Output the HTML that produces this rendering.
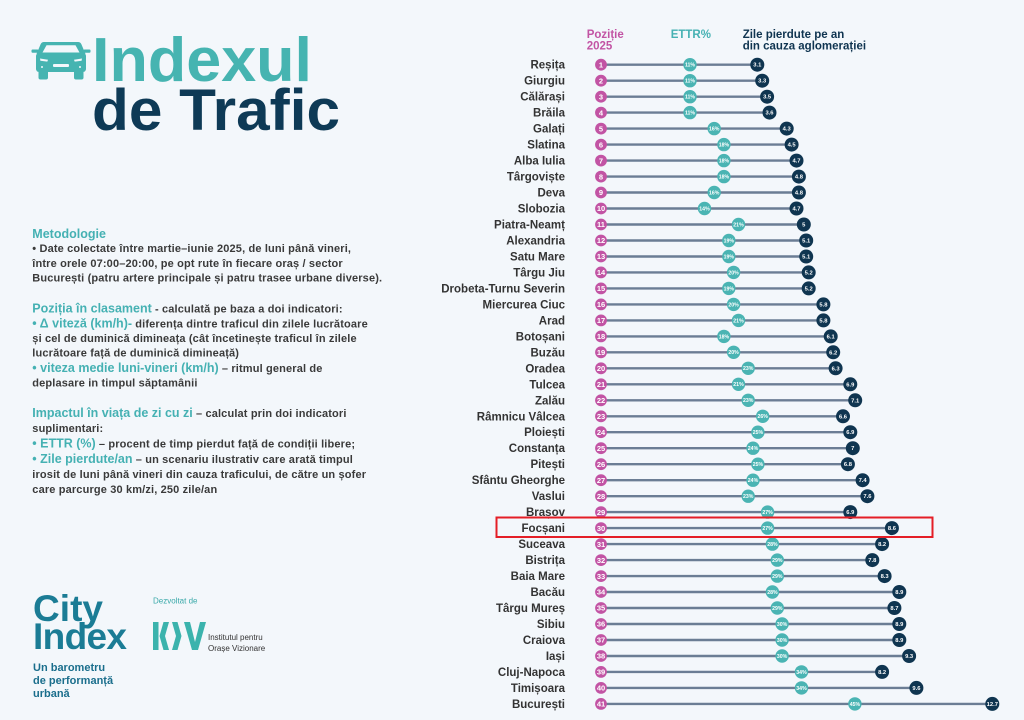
<!DOCTYPE html>
<html lang="ro">
<head>
<meta charset="utf-8">
<title>Indexul de Trafic</title>
<style>
html,body{margin:0;padding:0;background:#f3f7fb;}
svg{display:block;font-family:"Liberation Sans",Arial,sans-serif;}
.c{font-size:11.5px;font-weight:bold;fill:#333;text-anchor:end;}
line.r{stroke:#6b7d94;stroke-width:2.4;}
.p{fill:#c254a4;}
.t{fill:#4ab4b3;}
.d{fill:#0f3550;}
.pn{font-size:7.5px;font-weight:bold;fill:#fff;text-anchor:middle;}
.tn{font-size:5.2px;font-weight:bold;fill:#fff;text-anchor:middle;}
.dn{font-size:5.8px;font-weight:bold;fill:#fff;text-anchor:middle;}
.m{font-size:11px;font-weight:bold;fill:#3a3a3a;letter-spacing:0.15px;}
.h{font-size:12.5px;font-weight:bold;fill:#45b1b3;letter-spacing:0;}
</style>
</head>
<body>
<svg width="1024" height="720" viewBox="0 0 1024 720" xmlns="http://www.w3.org/2000/svg">
<rect width="1024" height="720" fill="#f3f7fb"/>

<!-- Car icon -->
<g fill="#46b4b1">
  <path d="M44,42 L78,42 Q80.5,42 81.5,44.5 L85.5,54 L36.5,54 L40.5,44.5 Q41.5,42 44,42 Z"/>
  <rect x="31.5" y="49.5" width="7" height="3.2" rx="1"/>
  <rect x="83.5" y="49.5" width="7" height="3.2" rx="1"/>
  <rect x="36" y="53" width="50" height="19" rx="3"/>
  <rect x="38.5" y="69" width="9.5" height="10.5" rx="2"/>
  <rect x="74" y="69" width="9.5" height="10.5" rx="2"/>
</g>
<g fill="#f3f7fb">
  <path d="M46.5,45.2 L75.5,45.2 L79.5,52.5 L42.5,52.5 Z"/>
  <path d="M40,58.5 L48,59.8 L47.3,61.6 L40.4,60.8 Z"/>
  <path d="M82,58.5 L74,59.8 L74.7,61.6 L81.6,60.8 Z"/>
  <rect x="53" y="64" width="16" height="3" rx="1"/>
  <circle cx="42" cy="67" r="1"/>
  <circle cx="80" cy="67" r="1"/>
</g>

<!-- Title -->
<text x="92" y="81" font-size="62" font-weight="bold" fill="#46b4b1" textLength="220" lengthAdjust="spacingAndGlyphs">Indexul</text>
<text x="92" y="130" font-size="58" font-weight="bold" fill="#0e3a56" textLength="248" lengthAdjust="spacingAndGlyphs">de Trafic</text>

<!-- Methodology -->
<text class="h" x="32.3" y="238">Metodologie</text>
<text class="m" x="32.3" y="252">• Date colectate între martie–iunie 2025, de luni până vineri,</text>
<text class="m" x="32.3" y="267">între orele 07:00–20:00, pe opt rute în fiecare oraș / sector</text>
<text class="m" x="32.3" y="281.5">București (patru artere principale și patru trasee urbane diverse).</text>

<text class="m" x="32.3" y="312.5"><tspan class="h">Poziția în clasament</tspan> - calculată pe baza a doi indicatori:</text>
<text class="m" x="32.3" y="327.5"><tspan class="h">• Δ viteză (km/h)-</tspan> diferența dintre traficul din zilele lucrătoare</text>
<text class="m" x="32.3" y="342">și cel de duminică dimineața (cât încetinește traficul în zilele</text>
<text class="m" x="32.3" y="356.5">lucrătoare față de duminică dimineață)</text>
<text class="m" x="32.3" y="372"><tspan class="h">• viteza medie luni-vineri (km/h)</tspan> – ritmul general de</text>
<text class="m" x="32.3" y="386.5">deplasare in timpul săptamânii</text>

<text class="m" x="32.3" y="417"><tspan class="h">Impactul în viața de zi cu zi</tspan> – calculat prin doi indicatori</text>
<text class="m" x="32.3" y="432">suplimentari:</text>
<text class="m" x="32.3" y="447.5"><tspan class="h">• ETTR (%)</tspan> – procent de timp pierdut față de condiții libere;</text>
<text class="m" x="32.3" y="463"><tspan class="h">• Zile pierdute/an</tspan> – un scenariu ilustrativ care arată timpul</text>
<text class="m" x="32.3" y="478">irosit de luni până vineri din cauza traficului, de către un șofer</text>
<text class="m" x="32.3" y="493">care parcurge 30 km/zi, 250 zile/an</text>

<!-- City Index logo -->
<text x="33" y="621" font-size="37" font-weight="bold" fill="#1b7c95" textLength="70">City</text>
<text x="33" y="649" font-size="37" font-weight="bold" fill="#1b7c95" textLength="94">Index</text>
<text x="33" y="671" font-size="11" font-weight="bold" fill="#1a6e8c">Un barometru</text>
<text x="33" y="684" font-size="11" font-weight="bold" fill="#1a6e8c">de performanță</text>
<text x="33" y="697" font-size="11" font-weight="bold" fill="#1a6e8c">urbană</text>

<text x="153" y="603.5" font-size="8" fill="#3aa9a9">Dezvoltat de</text>
<!-- IOV logo -->
<g fill="#3bb3ad">
  <rect x="153" y="622" width="5.5" height="28"/>
  <path d="M169,622 L163.5,622 L159.5,636 L163.5,650 L169,650 L165,636 Z"/>
  <path d="M172,622 L177.5,622 L181.5,636 L177.5,650 L172,650 L176,636 Z"/>
  <path d="M184,622 L190,622 L195,642 L200,622 L206,622 L198,650 L192,650 Z"/>
</g>
<text x="208" y="640" font-size="8" fill="#333">Institutul pentru</text>
<text x="208" y="651" font-size="8" fill="#333">Orașe Vizionare</text>

<!-- Chart header -->
<text x="586.7" y="38" font-size="11.5" font-weight="bold" fill="#c254a4">Poziție</text>
<text x="586.7" y="49.5" font-size="11.5" font-weight="bold" fill="#c254a4">2025</text>
<text x="670.7" y="38" font-size="11.5" font-weight="bold" fill="#45b1b3">ETTR%</text>
<text x="742.7" y="38" font-size="11.5" font-weight="bold" fill="#0f3450">Zile pierdute pe an</text>
<text x="742.7" y="49.5" font-size="11.5" font-weight="bold" fill="#0f3450">din cauza aglomerației</text>

<!-- Rows -->
<g transform="translate(0,64.7)"><text class="c" x="565" y="4">Reșița</text><line class="r" x1="601" x2="757.3"/><circle class="p" cx="601" r="5.9"/><text class="pn" x="601" y="2.7">1</text><circle class="t" cx="690" r="6.7"/><text class="tn" x="690" y="1.9">11%</text><circle class="d" cx="757.3" r="7"/><text class="dn" x="757.3" y="2">3.1</text></g>
<g transform="translate(0,80.7)"><text class="c" x="565" y="4">Giurgiu</text><line class="r" x1="601" x2="762.2"/><circle class="p" cx="601" r="5.9"/><text class="pn" x="601" y="2.7">2</text><circle class="t" cx="690" r="6.7"/><text class="tn" x="690" y="1.9">11%</text><circle class="d" cx="762.2" r="7"/><text class="dn" x="762.2" y="2">3.3</text></g>
<g transform="translate(0,96.7)"><text class="c" x="565" y="4">Călărași</text><line class="r" x1="601" x2="767.1"/><circle class="p" cx="601" r="5.9"/><text class="pn" x="601" y="2.7">3</text><circle class="t" cx="690" r="6.7"/><text class="tn" x="690" y="1.9">11%</text><circle class="d" cx="767.1" r="7"/><text class="dn" x="767.1" y="2">3.5</text></g>
<g transform="translate(0,112.6)"><text class="c" x="565" y="4">Brăila</text><line class="r" x1="601" x2="769.5"/><circle class="p" cx="601" r="5.9"/><text class="pn" x="601" y="2.7">4</text><circle class="t" cx="690" r="6.7"/><text class="tn" x="690" y="1.9">11%</text><circle class="d" cx="769.5" r="7"/><text class="dn" x="769.5" y="2">3.6</text></g>
<g transform="translate(0,128.6)"><text class="c" x="565" y="4">Galați</text><line class="r" x1="601" x2="786.7"/><circle class="p" cx="601" r="5.9"/><text class="pn" x="601" y="2.7">5</text><circle class="t" cx="714.2" r="6.7"/><text class="tn" x="714.2" y="1.9">16%</text><circle class="d" cx="786.7" r="7"/><text class="dn" x="786.7" y="2">4.3</text></g>
<g transform="translate(0,144.6)"><text class="c" x="565" y="4">Slatina</text><line class="r" x1="601" x2="791.6"/><circle class="p" cx="601" r="5.9"/><text class="pn" x="601" y="2.7">6</text><circle class="t" cx="723.9" r="6.7"/><text class="tn" x="723.9" y="1.9">18%</text><circle class="d" cx="791.6" r="7"/><text class="dn" x="791.6" y="2">4.5</text></g>
<g transform="translate(0,160.6)"><text class="c" x="565" y="4">Alba Iulia</text><line class="r" x1="601" x2="796.5"/><circle class="p" cx="601" r="5.9"/><text class="pn" x="601" y="2.7">7</text><circle class="t" cx="723.9" r="6.7"/><text class="tn" x="723.9" y="1.9">18%</text><circle class="d" cx="796.5" r="7"/><text class="dn" x="796.5" y="2">4.7</text></g>
<g transform="translate(0,176.6)"><text class="c" x="565" y="4">Târgoviște</text><line class="r" x1="601" x2="798.9"/><circle class="p" cx="601" r="5.9"/><text class="pn" x="601" y="2.7">8</text><circle class="t" cx="723.9" r="6.7"/><text class="tn" x="723.9" y="1.9">18%</text><circle class="d" cx="798.9" r="7"/><text class="dn" x="798.9" y="2">4.8</text></g>
<g transform="translate(0,192.5)"><text class="c" x="565" y="4">Deva</text><line class="r" x1="601" x2="798.9"/><circle class="p" cx="601" r="5.9"/><text class="pn" x="601" y="2.7">9</text><circle class="t" cx="714.2" r="6.7"/><text class="tn" x="714.2" y="1.9">16%</text><circle class="d" cx="798.9" r="7"/><text class="dn" x="798.9" y="2">4.8</text></g>
<g transform="translate(0,208.5)"><text class="c" x="565" y="4">Slobozia</text><line class="r" x1="601" x2="796.5"/><circle class="p" cx="601" r="5.9"/><text class="pn" x="601" y="2.7">10</text><circle class="t" cx="704.5" r="6.7"/><text class="tn" x="704.5" y="1.9">14%</text><circle class="d" cx="796.5" r="7"/><text class="dn" x="796.5" y="2">4.7</text></g>
<g transform="translate(0,224.5)"><text class="c" x="565" y="4">Piatra-Neamț</text><line class="r" x1="601" x2="803.8"/><circle class="p" cx="601" r="5.9"/><text class="pn" x="601" y="2.7">11</text><circle class="t" cx="738.5" r="6.7"/><text class="tn" x="738.5" y="1.9">21%</text><circle class="d" cx="803.8" r="7"/><text class="dn" x="803.8" y="2">5</text></g>
<g transform="translate(0,240.5)"><text class="c" x="565" y="4">Alexandria</text><line class="r" x1="601" x2="806.2"/><circle class="p" cx="601" r="5.9"/><text class="pn" x="601" y="2.7">12</text><circle class="t" cx="728.8" r="6.7"/><text class="tn" x="728.8" y="1.9">19%</text><circle class="d" cx="806.2" r="7"/><text class="dn" x="806.2" y="2">5.1</text></g>
<g transform="translate(0,256.5)"><text class="c" x="565" y="4">Satu Mare</text><line class="r" x1="601" x2="806.2"/><circle class="p" cx="601" r="5.9"/><text class="pn" x="601" y="2.7">13</text><circle class="t" cx="728.8" r="6.7"/><text class="tn" x="728.8" y="1.9">19%</text><circle class="d" cx="806.2" r="7"/><text class="dn" x="806.2" y="2">5.1</text></g>
<g transform="translate(0,272.4)"><text class="c" x="565" y="4">Târgu Jiu</text><line class="r" x1="601" x2="808.7"/><circle class="p" cx="601" r="5.9"/><text class="pn" x="601" y="2.7">14</text><circle class="t" cx="733.6" r="6.7"/><text class="tn" x="733.6" y="1.9">20%</text><circle class="d" cx="808.7" r="7"/><text class="dn" x="808.7" y="2">5.2</text></g>
<g transform="translate(0,288.4)"><text class="c" x="565" y="4">Drobeta-Turnu Severin</text><line class="r" x1="601" x2="808.7"/><circle class="p" cx="601" r="5.9"/><text class="pn" x="601" y="2.7">15</text><circle class="t" cx="728.8" r="6.7"/><text class="tn" x="728.8" y="1.9">19%</text><circle class="d" cx="808.7" r="7"/><text class="dn" x="808.7" y="2">5.2</text></g>
<g transform="translate(0,304.4)"><text class="c" x="565" y="4">Miercurea Ciuc</text><line class="r" x1="601" x2="823.4"/><circle class="p" cx="601" r="5.9"/><text class="pn" x="601" y="2.7">16</text><circle class="t" cx="733.6" r="6.7"/><text class="tn" x="733.6" y="1.9">20%</text><circle class="d" cx="823.4" r="7"/><text class="dn" x="823.4" y="2">5.8</text></g>
<g transform="translate(0,320.4)"><text class="c" x="565" y="4">Arad</text><line class="r" x1="601" x2="823.4"/><circle class="p" cx="601" r="5.9"/><text class="pn" x="601" y="2.7">17</text><circle class="t" cx="738.5" r="6.7"/><text class="tn" x="738.5" y="1.9">21%</text><circle class="d" cx="823.4" r="7"/><text class="dn" x="823.4" y="2">5.8</text></g>
<g transform="translate(0,336.4)"><text class="c" x="565" y="4">Botoșani</text><line class="r" x1="601" x2="830.7"/><circle class="p" cx="601" r="5.9"/><text class="pn" x="601" y="2.7">18</text><circle class="t" cx="723.9" r="6.7"/><text class="tn" x="723.9" y="1.9">18%</text><circle class="d" cx="830.7" r="7"/><text class="dn" x="830.7" y="2">6.1</text></g>
<g transform="translate(0,352.3)"><text class="c" x="565" y="4">Buzău</text><line class="r" x1="601" x2="833.2"/><circle class="p" cx="601" r="5.9"/><text class="pn" x="601" y="2.7">19</text><circle class="t" cx="733.6" r="6.7"/><text class="tn" x="733.6" y="1.9">20%</text><circle class="d" cx="833.2" r="7"/><text class="dn" x="833.2" y="2">6.2</text></g>
<g transform="translate(0,368.3)"><text class="c" x="565" y="4">Oradea</text><line class="r" x1="601" x2="835.6"/><circle class="p" cx="601" r="5.9"/><text class="pn" x="601" y="2.7">20</text><circle class="t" cx="748.2" r="6.7"/><text class="tn" x="748.2" y="1.9">23%</text><circle class="d" cx="835.6" r="7"/><text class="dn" x="835.6" y="2">6.3</text></g>
<g transform="translate(0,384.3)"><text class="c" x="565" y="4">Tulcea</text><line class="r" x1="601" x2="850.3"/><circle class="p" cx="601" r="5.9"/><text class="pn" x="601" y="2.7">21</text><circle class="t" cx="738.5" r="6.7"/><text class="tn" x="738.5" y="1.9">21%</text><circle class="d" cx="850.3" r="7"/><text class="dn" x="850.3" y="2">6.9</text></g>
<g transform="translate(0,400.3)"><text class="c" x="565" y="4">Zalău</text><line class="r" x1="601" x2="855.2"/><circle class="p" cx="601" r="5.9"/><text class="pn" x="601" y="2.7">22</text><circle class="t" cx="748.2" r="6.7"/><text class="tn" x="748.2" y="1.9">23%</text><circle class="d" cx="855.2" r="7"/><text class="dn" x="855.2" y="2">7.1</text></g>
<g transform="translate(0,416.3)"><text class="c" x="565" y="4">Râmnicu Vâlcea</text><line class="r" x1="601" x2="843"/><circle class="p" cx="601" r="5.9"/><text class="pn" x="601" y="2.7">23</text><circle class="t" cx="762.7" r="6.7"/><text class="tn" x="762.7" y="1.9">26%</text><circle class="d" cx="843" r="7"/><text class="dn" x="843" y="2">6.6</text></g>
<g transform="translate(0,432.2)"><text class="c" x="565" y="4">Ploiești</text><line class="r" x1="601" x2="850.3"/><circle class="p" cx="601" r="5.9"/><text class="pn" x="601" y="2.7">24</text><circle class="t" cx="757.9" r="6.7"/><text class="tn" x="757.9" y="1.9">25%</text><circle class="d" cx="850.3" r="7"/><text class="dn" x="850.3" y="2">6.9</text></g>
<g transform="translate(0,448.2)"><text class="c" x="565" y="4">Constanța</text><line class="r" x1="601" x2="852.8"/><circle class="p" cx="601" r="5.9"/><text class="pn" x="601" y="2.7">25</text><circle class="t" cx="753" r="6.7"/><text class="tn" x="753" y="1.9">24%</text><circle class="d" cx="852.8" r="7"/><text class="dn" x="852.8" y="2">7</text></g>
<g transform="translate(0,464.2)"><text class="c" x="565" y="4">Pitești</text><line class="r" x1="601" x2="847.9"/><circle class="p" cx="601" r="5.9"/><text class="pn" x="601" y="2.7">26</text><circle class="t" cx="757.9" r="6.7"/><text class="tn" x="757.9" y="1.9">25%</text><circle class="d" cx="847.9" r="7"/><text class="dn" x="847.9" y="2">6.8</text></g>
<g transform="translate(0,480.2)"><text class="c" x="565" y="4">Sfântu Gheorghe</text><line class="r" x1="601" x2="862.6"/><circle class="p" cx="601" r="5.9"/><text class="pn" x="601" y="2.7">27</text><circle class="t" cx="753" r="6.7"/><text class="tn" x="753" y="1.9">24%</text><circle class="d" cx="862.6" r="7"/><text class="dn" x="862.6" y="2">7.4</text></g>
<g transform="translate(0,496.2)"><text class="c" x="565" y="4">Vaslui</text><line class="r" x1="601" x2="867.4"/><circle class="p" cx="601" r="5.9"/><text class="pn" x="601" y="2.7">28</text><circle class="t" cx="748.2" r="6.7"/><text class="tn" x="748.2" y="1.9">23%</text><circle class="d" cx="867.4" r="7"/><text class="dn" x="867.4" y="2">7.6</text></g>
<g transform="translate(0,512.1)"><text class="c" x="565" y="4">Brașov</text><line class="r" x1="601" x2="850.3"/><circle class="p" cx="601" r="5.9"/><text class="pn" x="601" y="2.7">29</text><circle class="t" cx="767.6" r="6.7"/><text class="tn" x="767.6" y="1.9">27%</text><circle class="d" cx="850.3" r="7"/><text class="dn" x="850.3" y="2">6.9</text></g>
<g transform="translate(0,528.1)"><text class="c" x="565" y="4">Focșani</text><line class="r" x1="601" x2="891.9"/><circle class="p" cx="601" r="5.9"/><text class="pn" x="601" y="2.7">30</text><circle class="t" cx="767.6" r="6.7"/><text class="tn" x="767.6" y="1.9">27%</text><circle class="d" cx="891.9" r="7"/><text class="dn" x="891.9" y="2">8.6</text></g>
<g transform="translate(0,544.1)"><text class="c" x="565" y="4">Suceava</text><line class="r" x1="601" x2="882.1"/><circle class="p" cx="601" r="5.9"/><text class="pn" x="601" y="2.7">31</text><circle class="t" cx="772.4" r="6.7"/><text class="tn" x="772.4" y="1.9">28%</text><circle class="d" cx="882.1" r="7"/><text class="dn" x="882.1" y="2">8.2</text></g>
<g transform="translate(0,560.1)"><text class="c" x="565" y="4">Bistrița</text><line class="r" x1="601" x2="872.3"/><circle class="p" cx="601" r="5.9"/><text class="pn" x="601" y="2.7">32</text><circle class="t" cx="777.3" r="6.7"/><text class="tn" x="777.3" y="1.9">29%</text><circle class="d" cx="872.3" r="7"/><text class="dn" x="872.3" y="2">7.8</text></g>
<g transform="translate(0,576.1)"><text class="c" x="565" y="4">Baia Mare</text><line class="r" x1="601" x2="884.6"/><circle class="p" cx="601" r="5.9"/><text class="pn" x="601" y="2.7">33</text><circle class="t" cx="777.3" r="6.7"/><text class="tn" x="777.3" y="1.9">29%</text><circle class="d" cx="884.6" r="7"/><text class="dn" x="884.6" y="2">8.3</text></g>
<g transform="translate(0,592)"><text class="c" x="565" y="4">Bacău</text><line class="r" x1="601" x2="899.3"/><circle class="p" cx="601" r="5.9"/><text class="pn" x="601" y="2.7">34</text><circle class="t" cx="772.4" r="6.7"/><text class="tn" x="772.4" y="1.9">28%</text><circle class="d" cx="899.3" r="7"/><text class="dn" x="899.3" y="2">8.9</text></g>
<g transform="translate(0,608)"><text class="c" x="565" y="4">Târgu Mureș</text><line class="r" x1="601" x2="894.4"/><circle class="p" cx="601" r="5.9"/><text class="pn" x="601" y="2.7">35</text><circle class="t" cx="777.3" r="6.7"/><text class="tn" x="777.3" y="1.9">29%</text><circle class="d" cx="894.4" r="7"/><text class="dn" x="894.4" y="2">8.7</text></g>
<g transform="translate(0,624)"><text class="c" x="565" y="4">Sibiu</text><line class="r" x1="601" x2="899.3"/><circle class="p" cx="601" r="5.9"/><text class="pn" x="601" y="2.7">36</text><circle class="t" cx="782.1" r="6.7"/><text class="tn" x="782.1" y="1.9">30%</text><circle class="d" cx="899.3" r="7"/><text class="dn" x="899.3" y="2">8.9</text></g>
<g transform="translate(0,640)"><text class="c" x="565" y="4">Craiova</text><line class="r" x1="601" x2="899.3"/><circle class="p" cx="601" r="5.9"/><text class="pn" x="601" y="2.7">37</text><circle class="t" cx="782.1" r="6.7"/><text class="tn" x="782.1" y="1.9">30%</text><circle class="d" cx="899.3" r="7"/><text class="dn" x="899.3" y="2">8.9</text></g>
<g transform="translate(0,656)"><text class="c" x="565" y="4">Iași</text><line class="r" x1="601" x2="909.1"/><circle class="p" cx="601" r="5.9"/><text class="pn" x="601" y="2.7">38</text><circle class="t" cx="782.1" r="6.7"/><text class="tn" x="782.1" y="1.9">30%</text><circle class="d" cx="909.1" r="7"/><text class="dn" x="909.1" y="2">9.3</text></g>
<g transform="translate(0,671.9)"><text class="c" x="565" y="4">Cluj-Napoca</text><line class="r" x1="601" x2="882.1"/><circle class="p" cx="601" r="5.9"/><text class="pn" x="601" y="2.7">39</text><circle class="t" cx="801.5" r="6.7"/><text class="tn" x="801.5" y="1.9">34%</text><circle class="d" cx="882.1" r="7"/><text class="dn" x="882.1" y="2">8.2</text></g>
<g transform="translate(0,687.9)"><text class="c" x="565" y="4">Timișoara</text><line class="r" x1="601" x2="916.4"/><circle class="p" cx="601" r="5.9"/><text class="pn" x="601" y="2.7">40</text><circle class="t" cx="801.5" r="6.7"/><text class="tn" x="801.5" y="1.9">34%</text><circle class="d" cx="916.4" r="7"/><text class="dn" x="916.4" y="2">9.6</text></g>
<g transform="translate(0,703.9)"><text class="c" x="565" y="4">București</text><line class="r" x1="601" x2="992.3"/><circle class="p" cx="601" r="5.9"/><text class="pn" x="601" y="2.7">41</text><circle class="t" cx="854.9" r="6.7"/><text class="tn" x="854.9" y="1.9">45%</text><circle class="d" cx="992.3" r="7"/><text class="dn" x="992.3" y="2">12.7</text></g>

<!-- Highlight box -->
<rect x="496.5" y="517.5" width="436" height="19.5" fill="none" stroke="#e41e26" stroke-width="2"/>
</svg>
</body>
</html>
